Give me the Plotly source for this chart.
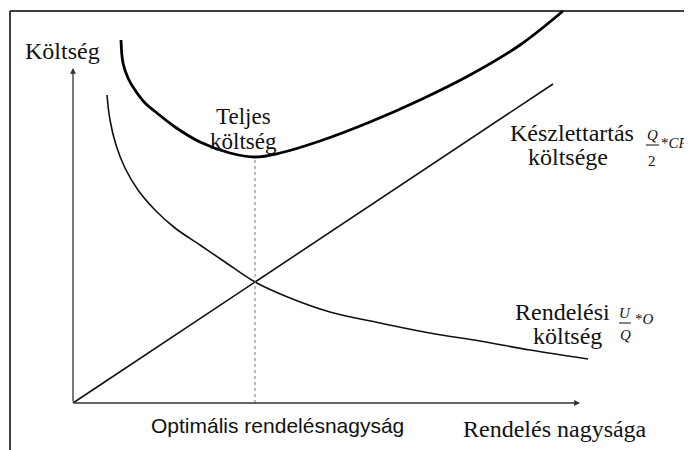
import plotly.graph_objects as go

# Order quantity (Q) and cost values (arbitrary units)
holding_q = [0, 480]
holding_cost = [0, 319]

ordering_q = [34, 37, 43, 52, 65, 82, 102, 127, 152, 182, 217, 257, 307, 357, 407, 457, 515]
ordering_cost = [308, 283, 258, 235, 213, 193, 175, 158, 141, 121, 105, 91, 80, 70, 62, 53, 44]

total_q = [48, 50, 55, 60, 72, 84, 102, 127, 157, 182, 207, 247, 297, 347, 397, 447, 490]
total_cost = [363, 340, 325, 316, 300, 290, 276, 261, 250, 246, 250, 262, 281, 303, 328, 358, 392]

optimum_q = 182
optimum_total = 246

fig = go.Figure()

fig.add_trace(go.Scatter(x=holding_q, y=holding_cost, mode="lines",
                         line=dict(color="#111", width=1.6), hoverinfo="skip"))
fig.add_trace(go.Scatter(x=ordering_q, y=ordering_cost, mode="lines",
                         line=dict(color="#111", width=1.6, shape="spline", smoothing=1.0),
                         hoverinfo="skip"))
fig.add_trace(go.Scatter(x=total_q, y=total_cost, mode="lines",
                         line=dict(color="#000", width=2.8, shape="spline", smoothing=1.0),
                         hoverinfo="skip"))
fig.add_trace(go.Scatter(x=[optimum_q, optimum_q], y=[0, optimum_total], mode="lines",
                         line=dict(color="#777", width=1, dash="dot"), hoverinfo="skip"))

# axes with arrows
fig.add_annotation(x=507, y=0, ax=0, ay=0, xref="x", yref="y", axref="x", ayref="y",
                   showarrow=True, arrowhead=2, arrowsize=0.9, arrowwidth=1.3,
                   arrowcolor="#333", text="")
fig.add_annotation(x=0, y=335, ax=0, ay=0, xref="x", yref="y", axref="x", ayref="y",
                   showarrow=True, arrowhead=2, arrowsize=0.9, arrowwidth=1.3,
                   arrowcolor="#333", text="")

# frame lines
fig.add_shape(type="line", x0=-63, x1=-63, y0=392, y1=-47, xref="x", yref="y",
              line=dict(color="black", width=1.5))
fig.add_shape(type="line", x0=-63, x1=619, y0=392, y1=392, xref="x", yref="y",
              line=dict(color="black", width=1.5))

serif = "Liberation Serif, Times New Roman, serif"
sans = "Liberation Sans, Arial, sans-serif"

def label(x, y, text, size=24, family=serif, xanchor="center"):
    fig.add_annotation(x=x, y=y, xref="x", yref="y", text=text, showarrow=False,
                       xanchor=xanchor, yanchor="middle",
                       font=dict(family=family, size=size, color="#111"))

label(-11, 352, "Költség")
label(170, 287, "Teljes", size=23)
label(170, 262, "költség", size=23)
label(499, 270, "Készlettartás")
label(495, 246, "költsége")
label(489, 91, "Rendelési")
label(494, 67, "költség")
label(204, -22, "Optimális rendelésnagyság", size=21, family=sans)
label(482, -26, "Rendelés nagysága")

# formula Q/2 * CP
label(579, 268, "<i>Q</i>", size=15)
fig.add_shape(type="line", x0=573, x1=586, y0=258, y1=258, xref="x", yref="y",
              line=dict(color="#111", width=1))
label(579, 242, "2", size=15)
label(586, 260, "*<i>CP</i>", size=15, xanchor="left")

# formula U/Q * O
label(552, 90, "<i>U</i>", size=15)
fig.add_shape(type="line", x0=546, x1=558, y0=80, y1=80, xref="x", yref="y",
              line=dict(color="#111", width=1))
label(552, 68, "<i>Q</i>", size=15)
label(560, 84, "*<i>O</i>", size=15, xanchor="left")

# the page body has an 8px margin, so the figure is 8px smaller and its ranges shifted
fig.update_layout(
    width=684, height=442,
    margin=dict(l=0, r=0, t=0, b=0),
    paper_bgcolor="white", plot_bgcolor="white",
    showlegend=False,
    xaxis=dict(range=[-65, 619], visible=False, fixedrange=True),
    yaxis=dict(range=[-47, 395], visible=False, fixedrange=True),
)

fig.write_html("out.html")
